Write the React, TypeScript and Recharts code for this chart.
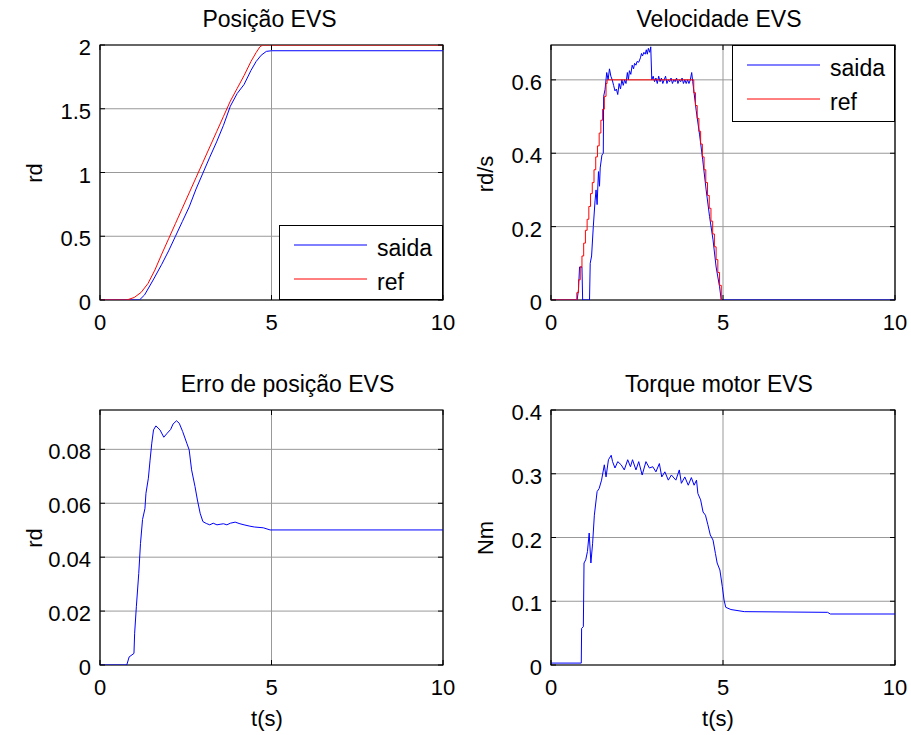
import {
  LineChart,
  Line,
  XAxis,
  YAxis,
  CartesianGrid,
  ReferenceArea,
  Legend,
} from "recharts";

const FONT = "Arial, 'Liberation Sans', Helvetica, sans-serif";
const BLUE = "#0000ff";
const RED = "#ff0000";

// pontos [t (s), valor]
const posSaida: [number, number][] = [
  [0, 0], [1.15, 0], [1.3, 0.04], [1.55, 0.157], [1.8, 0.28], [2.0, 0.385],
  [2.2, 0.5], [2.4, 0.615], [2.6, 0.73], [2.8, 0.87], [3.0, 0.995], [3.2, 1.12],
  [3.4, 1.24], [3.6, 1.37], [3.8, 1.52], [4.0, 1.62], [4.2, 1.69], [4.4, 1.8],
  [4.55, 1.87], [4.7, 1.92], [4.85, 1.95], [5.0, 1.955], [10, 1.955],
];
const posRef: [number, number][] = [
  [0, 0], [0.78, 0], [1.0, 0.02], [1.2, 0.06], [1.4, 0.13], [1.6, 0.235],
  [1.8, 0.36], [2.0, 0.48], [2.2, 0.6], [2.4, 0.72], [2.6, 0.84], [2.8, 0.96],
  [3.0, 1.08], [3.2, 1.2], [3.4, 1.32], [3.6, 1.44], [3.8, 1.56], [4.0, 1.66],
  [4.2, 1.76], [4.4, 1.87], [4.55, 1.94], [4.66, 1.985], [4.74, 2.0], [10, 2.0],
];

const velSaida: [number, number][] = [
  [0, 0], [0.76, 0], [0.8, 0.03], [0.83, 0.09], [0.9, 0.09], [0.92, 0], [1.12, 0],
  [1.14, 0.1], [1.18, 0.12], [1.23, 0.2], [1.28, 0.27], [1.31, 0.3], [1.34, 0.26],
  [1.38, 0.35], [1.41, 0.31], [1.43, 0.36], [1.48, 0.395], [1.52, 0.4], [1.53, 0.555],
  [1.57, 0.573], [1.62, 0.62], [1.66, 0.6], [1.7, 0.63], [1.74, 0.61], [1.78, 0.6],
  [1.82, 0.585], [1.86, 0.57], [1.9, 0.575], [1.94, 0.56], [1.98, 0.59], [2.02, 0.575],
  [2.06, 0.6], [2.1, 0.585], [2.14, 0.6], [2.18, 0.59], [2.22, 0.62], [2.25, 0.6],
  [2.28, 0.625], [2.32, 0.615], [2.36, 0.64], [2.4, 0.63], [2.43, 0.645], [2.47, 0.64],
  [2.5, 0.65], [2.55, 0.648], [2.6, 0.66], [2.63, 0.672], [2.66, 0.665], [2.7, 0.675],
  [2.74, 0.67], [2.77, 0.682], [2.8, 0.67], [2.83, 0.686], [2.87, 0.675], [2.9, 0.69],
  [2.93, 0.6], [2.97, 0.61], [3.01, 0.595], [3.05, 0.605], [3.09, 0.59], [3.13, 0.61],
  [3.17, 0.595], [3.21, 0.605], [3.25, 0.59], [3.29, 0.6], [3.33, 0.61], [3.37, 0.59],
  [3.41, 0.6], [3.45, 0.595], [3.49, 0.605], [3.53, 0.59], [3.57, 0.6], [3.61, 0.595],
  [3.65, 0.605], [3.69, 0.59], [3.73, 0.6], [3.77, 0.595], [3.81, 0.605], [3.85, 0.59],
  [3.89, 0.6], [3.93, 0.59], [3.97, 0.6], [4.01, 0.59], [4.05, 0.6], [4.09, 0.62],
  [4.12, 0.595], [4.22, 0.517], [4.32, 0.45], [4.41, 0.382], [4.51, 0.3], [4.61, 0.227],
  [4.71, 0.164], [4.8, 0.09], [4.9, 0.036], [4.95, 0], [10, 0],
];
// referência de velocidade em degraus
const velRef: [number, number][] = [
  [0, 0], [0.75, 0.02], [0.8, 0.055], [0.85, 0.09], [0.9, 0.12], [0.95, 0.155],
  [1.0, 0.19], [1.05, 0.22], [1.1, 0.255], [1.15, 0.29], [1.2, 0.32], [1.25, 0.355],
  [1.3, 0.39], [1.35, 0.42], [1.4, 0.455], [1.45, 0.49], [1.5, 0.52], [1.55, 0.555],
  [1.6, 0.59], [1.63, 0.6], [4.1, 0.6], [4.15, 0.565], [4.2, 0.53], [4.25, 0.495],
  [4.3, 0.46], [4.35, 0.425], [4.4, 0.39], [4.45, 0.355], [4.5, 0.32], [4.55, 0.285],
  [4.6, 0.25], [4.65, 0.215], [4.7, 0.18], [4.75, 0.145], [4.8, 0.11], [4.85, 0.075],
  [4.9, 0.04], [4.95, 0],
];

const erroSaida: [number, number][] = [
  [0, 0], [0.78, 0], [0.85, 0.003], [0.99, 0.0043], [1.01, 0.0118], [1.06, 0.0216],
  [1.13, 0.034], [1.18, 0.045], [1.24, 0.054], [1.31, 0.058], [1.34, 0.0637],
  [1.41, 0.0693], [1.46, 0.076], [1.51, 0.0823], [1.56, 0.0872], [1.63, 0.0887],
  [1.75, 0.0872], [1.86, 0.0845], [1.96, 0.086], [2.06, 0.0874], [2.13, 0.0894],
  [2.23, 0.0906], [2.31, 0.0897], [2.41, 0.0866], [2.53, 0.0823], [2.6, 0.0798],
  [2.67, 0.0724], [2.77, 0.0662], [2.84, 0.0612], [2.92, 0.0563], [3.0, 0.0532],
  [3.1, 0.0525], [3.2, 0.052], [3.3, 0.0526], [3.41, 0.052], [3.5, 0.0522],
  [3.6, 0.0524], [3.7, 0.052], [3.8, 0.0526], [3.94, 0.053], [4.08, 0.0524],
  [4.2, 0.052], [4.37, 0.0515], [4.5, 0.0512], [4.76, 0.0509], [4.96, 0.0501],
  [10, 0.0501],
];

const torqueSaida: [number, number][] = [
  [0, 0.003], [0.88, 0.003], [0.89, 0.0575], [0.94, 0.06], [0.96, 0.16], [1.01, 0.165],
  [1.06, 0.178], [1.11, 0.207], [1.16, 0.16], [1.21, 0.191], [1.26, 0.235], [1.34, 0.272],
  [1.4, 0.277], [1.47, 0.29], [1.55, 0.314], [1.6, 0.295], [1.67, 0.322], [1.75, 0.329],
  [1.79, 0.319], [1.86, 0.309], [1.94, 0.319], [2.04, 0.314], [2.13, 0.306], [2.23, 0.322],
  [2.31, 0.311], [2.37, 0.322], [2.47, 0.306], [2.55, 0.319], [2.65, 0.298], [2.76, 0.319],
  [2.86, 0.309], [2.96, 0.311], [3.05, 0.303], [3.15, 0.316], [3.22, 0.295], [3.31, 0.303],
  [3.41, 0.29], [3.5, 0.298], [3.63, 0.29], [3.73, 0.306], [3.79, 0.285], [3.89, 0.295],
  [3.99, 0.282], [4.08, 0.294], [4.16, 0.282], [4.23, 0.29], [4.27, 0.269], [4.35, 0.259],
  [4.42, 0.24], [4.49, 0.235], [4.56, 0.22], [4.63, 0.204], [4.71, 0.196], [4.78, 0.175],
  [4.83, 0.16], [4.91, 0.149], [4.98, 0.123], [5.03, 0.102], [5.08, 0.0905], [5.23, 0.087],
  [5.62, 0.0837], [8.04, 0.0826], [8.12, 0.08], [10, 0.08],
];

const xTicks = [0, 5, 10];
const posTicks = [0, 0.5, 1, 1.5, 2];
const velTicks = [0, 0.2, 0.4, 0.6];
const erroTicks = [0, 0.02, 0.04, 0.06, 0.08];
const torqueTicks = [0, 0.1, 0.2, 0.3, 0.4];

const rows = (pts: [number, number][]) => pts.map(([t, v]) => ({ t, v }));

type Serie = {
  name: string;
  color: string;
  pts: [number, number][];
  step?: boolean;
};

function XTick({ x, y, payload, h }: any) {
  return (
    <g>
      <line x1={x} y1={y} x2={x} y2={y - 5} stroke="#000" />
      <line x1={x} y1={y - h} x2={x} y2={y - h + 5} stroke="#000" />
      <text x={x} y={y + 30} textAnchor="middle" fontSize={22} fontFamily={FONT} fill="#000">
        {payload.value}
      </text>
    </g>
  );
}

function YTick({ x, y, payload, w }: any) {
  return (
    <g>
      <line x1={x} y1={y} x2={x + 5} y2={y} stroke="#000" />
      <line x1={x + w - 5} y1={y} x2={x + w} y2={y} stroke="#000" />
      <text x={x - 9} y={y + 10} textAnchor="end" fontSize={22} fontFamily={FONT} fill="#000">
        {payload.value}
      </text>
    </g>
  );
}

function LegendBox({ payload, order, w, h }: any) {
  const rowY = [20, 54];
  const items = order
    .map((n: string) => (payload || []).find((p: any) => p.value === n))
    .filter(Boolean);
  return (
    <svg width={w} height={h} style={{ display: "block" }}>
      <rect x={0.5} y={0.5} width={w - 1} height={h - 1} fill="#fff" stroke="#000" />
      {items.map((it: any, i: number) => (
        <g key={it.value}>
          <line x1={15} y1={rowY[i]} x2={88} y2={rowY[i]} stroke={it.color} />
          <text x={98} y={rowY[i] + 11} fontSize={23} fontFamily={FONT} fill="#000">
            {it.value}
          </text>
        </g>
      ))}
    </svg>
  );
}

interface PanelProps {
  left: number;
  top: number;
  w: number;
  h: number;
  yMax: number;
  yTicks: number[];
  series: Serie[];
  legend?: { left: number; top: number; w: number; h: number };
}

function Panel({ left, top, w, h, yMax, yTicks, series, legend }: PanelProps) {
  const ML = 100;
  const MT = 45;
  const MR = 16;
  const XH = 40;
  const cl = left - ML;
  const ct = top - MT;
  const order = series.map((s) => s.name);
  return (
    <div style={{ position: "absolute", left: cl, top: ct }}>
      <LineChart
        width={ML + w + MR}
        height={MT + h + XH}
        margin={{ top: MT, right: MR, bottom: 0, left: 0 }}
      >
        <CartesianGrid stroke="#999" strokeWidth={1} />
        <XAxis
          dataKey="t"
          type="number"
          domain={[0, 10]}
          ticks={xTicks}
          interval={0}
          height={XH}
          axisLine={false}
          tickLine={false}
          tickSize={0}
          tickMargin={0}
          tick={(p: any) => <XTick {...p} h={h} />}
        />
        <YAxis
          type="number"
          domain={[0, yMax]}
          ticks={yTicks}
          interval={0}
          allowDataOverflow
          width={ML}
          axisLine={false}
          tickLine={false}
          tickSize={0}
          tickMargin={0}
          tick={(p: any) => <YTick {...p} w={w} />}
        />
        <ReferenceArea
          x1={0}
          x2={10}
          y1={0}
          y2={yMax}
          fill="none"
          stroke="#000"
          strokeWidth={1.2}
        />
        {series.map((s) => (
          <Line
            key={s.name}
            data={rows(s.pts)}
            dataKey="v"
            name={s.name}
            type={s.step ? "stepAfter" : "linear"}
            stroke={s.color}
            strokeWidth={1}
            dot={false}
            activeDot={false}
            isAnimationActive={false}
          />
        ))}
        {legend && (
          <Legend
            layout="vertical"
            align="center"
            verticalAlign="middle"
            wrapperStyle={{
              left: legend.left - cl,
              top: legend.top - ct,
              width: legend.w,
              height: legend.h,
            }}
            content={(p: any) => (
              <LegendBox payload={p.payload} order={order} w={legend.w} h={legend.h} />
            )}
          />
        )}
      </LineChart>
    </div>
  );
}

const titles = [
  { text: "Posição EVS", x: 269.5, y: 26.5 },
  { text: "Velocidade EVS", x: 719, y: 26.5 },
  { text: "Erro de posição EVS", x: 287.5, y: 391.5 },
  { text: "Torque motor EVS", x: 719, y: 391.5 },
];
const yLabels = [
  { text: "rd", x: 41.7, y: 173 },
  { text: "rd/s", x: 493, y: 174 },
  { text: "rd", x: 41.7, y: 538 },
  { text: "Nm", x: 493, y: 538 },
];
const xLabels = [
  { text: "t(s)", x: 267, y: 726 },
  { text: "t(s)", x: 718, y: 726 },
];

export default function App() {
  return (
    <div
      style={{
        position: "absolute",
        left: 0,
        top: 0,
        width: 911,
        height: 735,
        background: "#fff",
        overflow: "hidden",
      }}
    >
      <Panel
        left={100}
        top={45}
        w={343}
        h={255}
        yMax={2}
        yTicks={posTicks}
        series={[
          { name: "saida", color: BLUE, pts: posSaida },
          { name: "ref", color: RED, pts: posRef },
        ]}
        legend={{ left: 279, top: 225, w: 164, h: 75 }}
      />
      <Panel
        left={551}
        top={45}
        w={344}
        h={255}
        yMax={0.695}
        yTicks={velTicks}
        series={[
          { name: "saida", color: BLUE, pts: velSaida },
          { name: "ref", color: RED, pts: velRef, step: true },
        ]}
        legend={{ left: 732, top: 45, w: 163, h: 77 }}
      />
      <Panel
        left={100}
        top={410}
        w={343}
        h={255}
        yMax={0.0946}
        yTicks={erroTicks}
        series={[{ name: "saida", color: BLUE, pts: erroSaida }]}
      />
      <Panel
        left={551}
        top={410}
        w={344}
        h={255}
        yMax={0.4}
        yTicks={torqueTicks}
        series={[{ name: "saida", color: BLUE, pts: torqueSaida }]}
      />
      <svg
        width={911}
        height={735}
        style={{ position: "absolute", left: 0, top: 0, pointerEvents: "none" }}
      >
        {titles.map((t) => (
          <text key={t.text} x={t.x} y={t.y} textAnchor="middle" fontSize={23} fontFamily={FONT} fill="#000">
            {t.text}
          </text>
        ))}
        {yLabels.map((t, i) => (
          <text
            key={i}
            x={t.x}
            y={t.y}
            textAnchor="middle"
            fontSize={22}
            fontFamily={FONT}
            fill="#000"
            transform={`rotate(-90 ${t.x} ${t.y})`}
          >
            {t.text}
          </text>
        ))}
        {xLabels.map((t, i) => (
          <text key={i} x={t.x} y={t.y} textAnchor="middle" fontSize={22} fontFamily={FONT} fill="#000">
            {t.text}
          </text>
        ))}
      </svg>
    </div>
  );
}
